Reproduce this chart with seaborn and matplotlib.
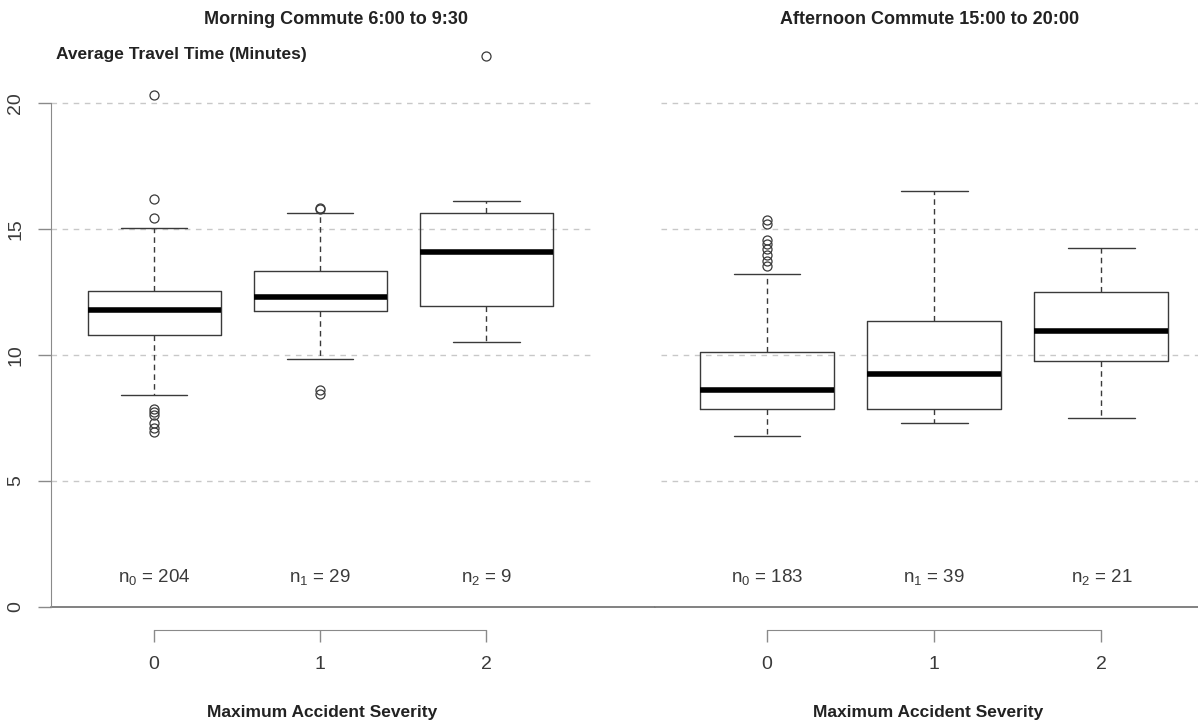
import numpy as np
import pandas as pd
import seaborn as sns
import matplotlib.pyplot as plt
from matplotlib import font_manager

# box summaries (minutes)
severity = ["0", "1", "2"]

morning_med = [11.8, 12.3, 14.1]
morning_q1 = [10.8, 11.75, 11.95]
morning_q3 = [12.55, 13.35, 15.65]
morning_lo = [8.4, 9.85, 10.5]
morning_hi = [15.05, 15.65, 16.1]
morning_out = [[20.3, 16.2, 15.45, 7.85, 7.75, 7.6, 7.3, 7.1, 6.95],
               [15.85, 15.8, 8.6, 8.45],
               [21.85]]
morning_n = [204, 29, 9]

afternoon_med = [8.6, 9.25, 10.95]
afternoon_q1 = [7.85, 7.85, 9.75]
afternoon_q3 = [10.1, 11.35, 12.5]
afternoon_lo = [6.8, 7.3, 7.5]
afternoon_hi = [13.2, 16.5, 14.25]
afternoon_out = [[15.35, 15.2, 14.55, 14.4, 14.2, 13.95, 13.75, 13.55], [], []]
afternoon_n = [183, 39, 21]


def build_rows(period, med, q1, q3, lo, hi, out):
    # repeat the quartile values so the boxplot stats come out as read
    rows = []
    for i, sev in enumerate(severity):
        m = len(out[i]) + 4
        vals = list(out[i]) + [lo[i], hi[i]] + [q1[i]] * m + [med[i]] * m + [q3[i]] * m
        rows += [{"period": period, "severity": sev, "minutes": v} for v in vals]
    return rows


df = pd.DataFrame(
    build_rows("morning", morning_med, morning_q1, morning_q3, morning_lo, morning_hi, morning_out)
    + build_rows("afternoon", afternoon_med, afternoon_q1, afternoon_q3, afternoon_lo, afternoon_hi, afternoon_out)
)

sns.set_style("white")
names = {f.name for f in font_manager.fontManager.ttflist}
narrow = "Liberation Sans Narrow" if "Liberation Sans Narrow" in names else "Liberation Sans"
plt.rcParams["font.family"] = ["Liberation Sans", "DejaVu Sans"]

W, H = 1198, 725
Y0, PX = 607, 25.2  # pixel row of y=0, pixels per minute
TOP = 40


def rect(l, r, b, t):
    return [l / W, 1 - b / H, (r - l) / W, (b - t) / H]


fig = plt.figure(figsize=(W / 100, H / 100), dpi=100)
ax1 = fig.add_axes(rect(51, 621, Y0, TOP))
ax2 = fig.add_axes(rect(655, 1205, Y0, TOP))

line_c = "#3a3a3a"
axis_c = "#8a8a8a"
grid_c = "#c8c8c8"

panels = [
    (ax1, "morning", "Morning Commute 6:00 to 9:30", morning_n, (-0.62, 2.81), 0.946, 0.0, 0.475),
    (ax2, "afternoon", "Afternoon Commute 15:00 to 20:00", afternoon_n, (-0.67, 2.62), 1.0, 0.011, 0.496),
]

for ax, period, title, counts, xlim, gx1, gx0, xlab_x in panels:
    sns.boxplot(
        data=df[df["period"] == period], x="severity", y="minutes", order=severity,
        ax=ax, fill=False, color=line_c, width=0.8, linewidth=1,
        whis=1.5,
        medianprops=dict(color="black", linewidth=4),
        whiskerprops=dict(linestyle=(0, (4, 3)), linewidth=1),
        capprops=dict(linestyle="-", linewidth=1),
        flierprops=dict(marker="o", markersize=6.5, markerfacecolor="none",
                        markeredgecolor=line_c, markeredgewidth=0.9),
    )
    ax.set_xlim(*xlim)
    ax.set_ylim(0, (Y0 - TOP) / PX)

    for g in [5, 10, 15, 20]:
        ax.axhline(g, xmin=gx0, xmax=gx1, color=grid_c, lw=1, ls=(0, (4, 4)), zorder=0)

    for s in ["top", "right"]:
        ax.spines[s].set_visible(False)
    ax.spines["bottom"].set_position(("outward", 23 * 0.72))
    ax.spines["bottom"].set_bounds(0, 2)
    ax.spines["bottom"].set_color(axis_c)
    ax.tick_params(axis="x", direction="out", length=8.6, width=1, color=axis_c,
                   pad=10, labelsize=14, labelcolor=line_c, bottom=True)

    for i, n in enumerate(counts):
        ax.text(i, 1.2, r"$\mathregular{n_%d}$ = %d" % (i, n), ha="center", va="center",
                fontsize=13.5, color=line_c)

    ax.text(0.5, (Y0 - 19) / (Y0 - TOP), title, transform=ax.transAxes, ha="center",
            va="center", fontsize=13, fontweight="bold", family=narrow, color="#222222")

    ax.set_xlabel("Maximum Accident Severity", fontsize=12.5, fontweight="bold",
                  family=narrow, color="#222222")
    ax.xaxis.set_label_coords(xlab_x, (Y0 - 705) / (Y0 - TOP))
    ax.set_ylabel("")

# baseline at zero, running across both panels
ax1.axhline(0, xmin=0, xmax=(655 - 51) / 570, color="#777777", lw=1.3, clip_on=False, zorder=1)
ax2.axhline(0, xmin=0, xmax=1, color="#777777", lw=1.3, clip_on=False, zorder=1)

ax1.spines["left"].set_bounds(0, 20)
ax1.spines["left"].set_color(axis_c)
ax1.set_yticks([0, 5, 10, 15, 20])
ax1.tick_params(axis="y", direction="out", length=9.4, width=1, color=axis_c,
                pad=10, labelsize=14, labelcolor=line_c, left=True)
plt.setp(ax1.get_yticklabels(), rotation=90, va="center")

ax2.spines["left"].set_visible(False)
ax2.set_yticks([])

ax1.text((56 - 51) / 570, (Y0 - 54) / (Y0 - TOP), "Average Travel Time (Minutes)",
         transform=ax1.transAxes, ha="left", va="center", fontsize=12.5,
         fontweight="bold", family=narrow, color="#222222")

fig.savefig("out.png", dpi=100)
